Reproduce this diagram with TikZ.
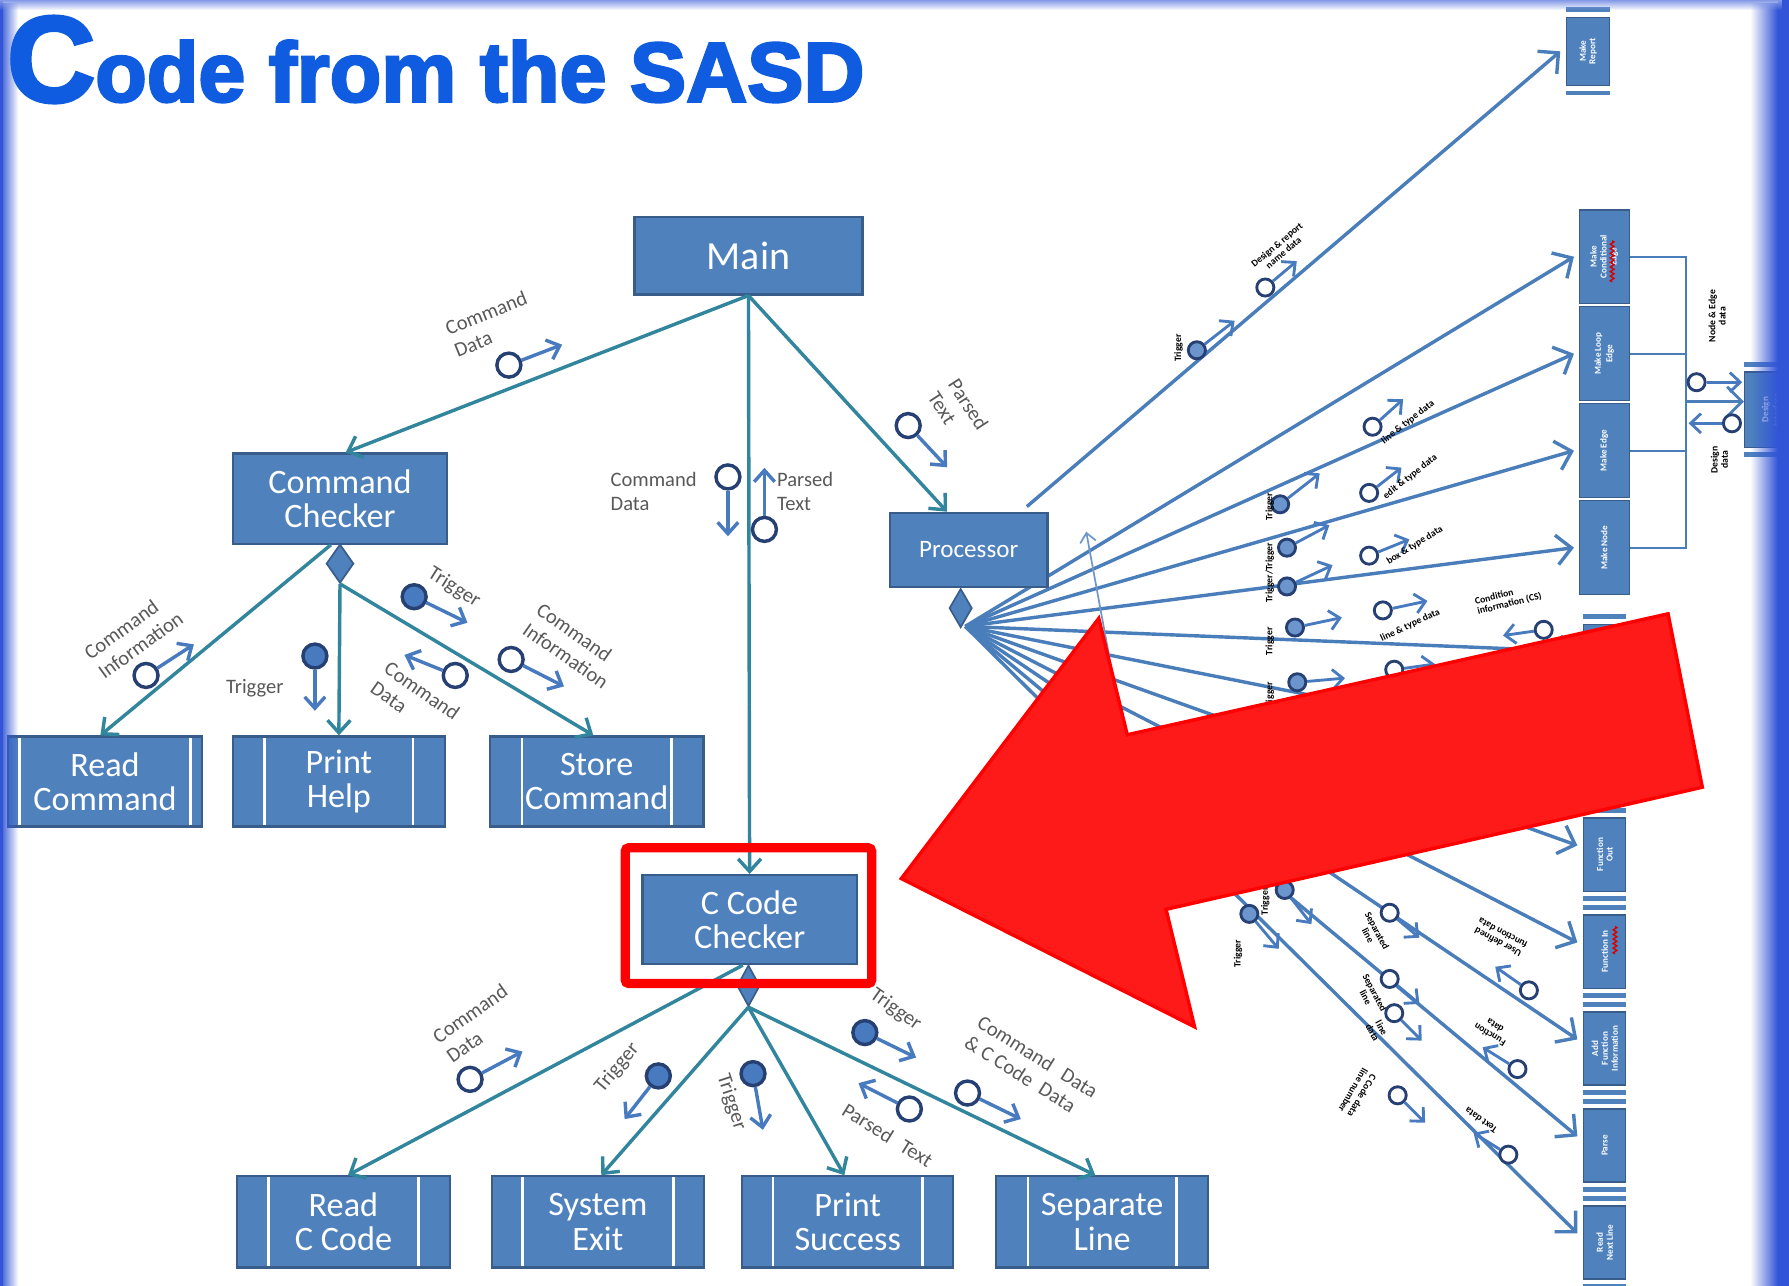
\documentclass[tikz,border=0pt]{standalone}
\usepackage{fontspec}
\usepackage{graphicx}
\setmainfont{Carlito}
\newfontfamily\titlefont{Liberation Sans}[BoldFeatures={FakeBold=3}]
\usetikzlibrary{arrows.meta,shapes.geometric,fadings,decorations.pathmorphing}

\definecolor{boxblue}{RGB}{79,129,189}
\definecolor{boxedge}{RGB}{56,93,138}
\definecolor{linkteal}{RGB}{49,133,156}
\definecolor{fanblue}{RGB}{74,126,187}
\definecolor{cplblue}{RGB}{72,122,192}
\definecolor{cpledge}{RGB}{38,64,115}
\definecolor{titleblue}{RGB}{16,92,224}
\definecolor{edgeblue}{RGB}{50,85,215}
\definecolor{alertfill}{RGB}{255,26,26}
\definecolor{alertline}{RGB}{255,0,0}

\tikzfading[name=fadeinright, left color=transparent!100, right color=transparent!0]
\tikzfading[name=fadeinleft, left color=transparent!0, right color=transparent!100]
\tikzfading[name=fadeindown, top color=transparent!0, bottom color=transparent!100]

% data couple: circle node, then a short arrow leaving it
\newcommand\dflow[6]{\node[#1] (#2) at (#3) {}; \draw[#4] (#2) -- ++(#5:#6);}
% separator bars above and below a stacked module box
\newcommand\colbars[1]{%
  \draw[colbar] ([yshift=6]#1.north west) -- ([yshift=6]#1.north east);
  \draw[colbar] ([yshift=-6]#1.south west) -- ([yshift=-6]#1.south east);}

\begin{document}
\begin{tikzpicture}[x=1pt,y=-1pt,
  box/.style={draw=boxedge, fill=boxblue, line width=2, text=white, align=center,
    inner sep=0, font=\fontsize{30}{30}\selectfont},
  sub/.style={box, path picture={
    \draw[white, line width=2.5] ([xshift=#1]path picture bounding box.north west) -- ([xshift=#1]path picture bounding box.south west);
    \draw[white, line width=2.5] ([xshift=-#1]path picture bounding box.north east) -- ([xshift=-#1]path picture bounding box.south east);}},
  gate/.style={diamond, draw=boxedge, fill=boxblue, line width=1.5, inner sep=0,
    minimum width=24, minimum height=34},
  link/.style={draw=linkteal, line width=3, -{Straight Barb[length=11pt,width=20pt]}},
  fan/.style={draw=fanblue, line width=3, -{Straight Barb[length=13pt,width=26pt]}},
  opc/.style={circle, draw=cpledge, line width=3, fill=white, minimum size=21, inner sep=0},
  flc/.style={opc, fill=cplblue},
  cpl/.style={draw=cplblue, line width=3, -{Straight Barb[length=10pt,width=18pt]}},
  sopc/.style={circle, draw=cpledge, line width=2.5, fill=white, minimum size=15, inner sep=0},
  sflc/.style={sopc, fill=cplblue!80},
  scpl/.style={draw=cplblue, line width=2.5, -{Straight Barb[length=9pt,width=17pt]}},
  lbl/.style={text=black!65, inner sep=0, align=left, font=\fontsize{18}{21}\selectfont},
  minilbl/.style={text=black, inner sep=0, align=center, font=\fontsize{8.5}{9}\selectfont\bfseries},
  cbox/.style={draw=boxedge, fill=boxblue, line width=1, text=white, inner sep=0,
    align=center, font=\fontsize{8}{8.5}\selectfont\bfseries},
  colbar/.style={draw=boxblue, line width=4},
  bracket/.style={draw=fanblue, line width=2},
  squiggle/.style={draw=red!85!black, line width=1.2, decorate,
    decoration={zigzag, amplitude=1.6, segment length=4}},
]
\useasboundingbox (0,0) rectangle (1568,1127);
\fill[white] (0,0) rectangle (1568,1127);

% ---------- right-hand modules ----------
\node[cbox, minimum width=38, minimum height=60] (mkreport) at (1392,45)
  {\rotatebox{90}{\shortstack{Make\\Report}}};
\colbars{mkreport}

\node[cbox, minimum width=44, minimum height=82] (mkcond) at (1406,225)
  {\rotatebox{90}{\shortstack{Make\\Conditional\\Edge}}};
\node[cbox, minimum width=44, minimum height=82] (mkloop) at (1406,310)
  {\rotatebox{90}{\shortstack{Make Loop\\Edge}}};
\node[cbox, minimum width=44, minimum height=82] (mkedge) at (1406,395)
  {\rotatebox{90}{Make Edge}};
\node[cbox, minimum width=44, minimum height=82] (mknode) at (1406,480)
  {\rotatebox{90}{Make Node}};

\node[cbox, minimum width=37, minimum height=64] (colA) at (1406.5,579) {};
\node[cbox, minimum width=37, minimum height=64] (colB) at (1406.5,664) {};
\node[cbox, minimum width=37, minimum height=64] (fnout) at (1406.5,749)
  {\rotatebox{90}{\shortstack{Function\\Out}}};
\node[cbox, minimum width=37, minimum height=64] (fnin) at (1406.5,834)
  {\rotatebox{90}{Function In}};
\node[cbox, minimum width=37, minimum height=64] (addfn) at (1406.5,919)
  {\rotatebox{90}{\shortstack{Add\\Function\\Information}}};
\node[cbox, minimum width=37, minimum height=64] (parse) at (1406.5,1004)
  {\rotatebox{90}{Parse}};
\node[cbox, minimum width=37, minimum height=64] (readnext) at (1406.5,1089)
  {\rotatebox{90}{\shortstack{Read\\Next Line}}};
\foreach \b in {colA,colB,fnout,fnin,addfn,parse,readnext} {\colbars{\b}}

% spell-check marks under two of the labels
\draw[squiggle] ([xshift=7,yshift=14]mkcond.center) -- ([xshift=7,yshift=-22]mkcond.center);
\draw[squiggle] ([xshift=9,yshift=22]fnin.center) -- ([xshift=9,yshift=-2]fnin.center);

\node[cbox, minimum width=46, minimum height=66] (design) at (1552,359)
  {\rotatebox{90}{\shortstack{Design\\Interface}}};
\colbars{design}

% bracket joining the edge/node builders to the design interface
\coordinate (bx) at (1478,0);
\draw[bracket] (mkcond.east) -- (mkcond.east -| bx) -- (mknode.east -| bx) -- (mknode.east);
\draw[bracket] (mkloop.east) -- (mkloop.east -| bx);
\draw[bracket] (mkedge.east) -- (mkedge.east -| bx);
\coordinate (bj) at (1478,352);
\draw[fan, line width=2.5] (bj) -- (bj -| design.west);
\dflow{sopc}{d1}{1487,335}{scpl}{0}{40}
\node[minilbl, rotate=90] (d1t) at (1505,277) {Node \& Edge\\data};
\dflow{sopc}{d2}{1518,371}{scpl}{180}{38}
\node[minilbl, rotate=90] (d2t) at (1507,403) {Design\\data};

% ---------- processor fan ----------
\coordinate (fo) at (846,549);
\coordinate (pcorner) at (900,444);
\draw[fan] (pcorner) -- ([xshift=-5]mkreport.west);
\foreach \t in {mkcond,mkloop,mkedge,mknode} {\draw[fan] (fo) -- ([xshift=-4]\t.west);}
\foreach \t in {colA,colB,fnout,fnin,addfn,parse,readnext} {\draw[fan] (fo) -- ([xshift=-5,yshift=8]\t.west);}

\node[box, minimum width=138, minimum height=65, font=\fontsize{22}{22}\selectfont] (proc) at (849,482) {Processor};
\node[gate, minimum width=20, minimum height=34] (pd) at (842,533) {};

\coordinate (thinlow) at (985,645);
\coordinate (thinhigh) at (952,466);
\draw[draw=fanblue!80, line width=1.5, -{Straight Barb[length=8pt,width=14pt]}] (thinlow) -- (thinhigh);

% couples on the fan
\dflow{sflc}{f1}{1049,307}{scpl}{-38}{42}
\node[minilbl, rotate=90] (f1t) at (1033,305) {Trigger};
\dflow{sopc}{f2}{1109,252}{scpl}{-40}{36}
\node[minilbl, rotate=40] (f2t) at (1122,218) {Design \& report\\name data};
\dflow{sflc}{f3}{1122,442}{scpl}{-38}{44}
\dflow{sopc}{f4}{1203,374}{scpl}{-42}{36}
\node[minilbl, rotate=38] (f4t) at (1234,370) {line \& type data};
\dflow{sflc}{f5}{1128,480}{scpl}{-28}{42}
\dflow{sopc}{f6}{1200,432}{scpl}{-38}{36}
\node[minilbl, rotate=38] (f6t) at (1236,418) {edit \& type data};
\dflow{sflc}{f7}{1128,514}{scpl}{-25}{44}
\dflow{sopc}{f8}{1200,487}{scpl}{-22}{38}
\node[minilbl, rotate=32] (f8t) at (1240,478) {box \& type data};
\dflow{sflc}{f9}{1135,550}{scpl}{-12}{42}
\dflow{sopc}{f10}{1212,535}{scpl}{-12}{40}
\node[minilbl, rotate=25] (f10t) at (1236,548) {line \& type data};
\node[minilbl, rotate=14, align=left] (f11t) at (1322,525) {Condition\\information (CS)};
\dflow{sopc}{f11}{1353,552}{scpl}{172}{36}
\dflow{sflc}{f12}{1137,598}{scpl}{-5}{42}
\dflow{sopc}{f13}{1222,587}{scpl}{-8}{36}
\node[minilbl, rotate=90] (tg1) at (1113,444) {Trigger};
\node[minilbl, rotate=90] (tg2) at (1113,502) {Trigger/Trigger};
\node[minilbl, rotate=90] (tg3) at (1113,562) {Trigger};
\node[minilbl, rotate=90] (tg4) at (1113,610) {Trigger};

\dflow{sflc}{g1}{1095,801}{scpl}{50}{40}
\node[minilbl, rotate=90] (g1t) at (1085,836) {Trigger};
\dflow{sflc}{g2}{1126,780}{scpl}{52}{38}
\node[minilbl, rotate=90] (g2t) at (1109,790) {Trigger};
\dflow{sopc}{g3}{1218,800}{scpl}{40}{34}
\node[minilbl, rotate=-62] (g3t) at (1203,818) {Separated\\line};
\dflow{sopc}{g4}{1218,858}{scpl}{40}{34}
\node[minilbl, rotate=-62] (g4t) at (1201,872) {Separated\\line};
\dflow{sopc}{g5}{1222,888}{scpl}{45}{34}
\node[minilbl, rotate=-62] (g5t) at (1207,903) {line\\data};
\dflow{sopc}{g6}{1225,960}{scpl}{45}{34}
\node[minilbl, rotate=-120] (g6t) at (1190,958) {C Code data\\line number};
\dflow{sopc}{g7}{1340,868}{scpl}{215}{36}
\node[minilbl, rotate=152] (g7t) at (1315,822) {User defined\\function data};
\dflow{sopc}{g8}{1330,937}{scpl}{212}{36}
\node[minilbl, rotate=148] (g8t) at (1308,903) {Function\\data};
\dflow{sopc}{g9}{1322,1012}{scpl}{212}{36}
\node[minilbl, rotate=145] (g9t) at (1298,982) {Text data};

% ---------- main structure ----------
\node[box, minimum width=200, minimum height=68, font=\fontsize{35}{35}\selectfont] (main) at (656,224) {Main};
\node[box, minimum width=188, minimum height=79] (cmdchk) at (298,437) {Command\\Checker};
\node[gate] (cmdd) at (298,494) {};
\node[box, minimum width=188, minimum height=78] (cchk) at (657,806) {C Code\\Checker};
\node[gate, minimum width=20, minimum height=36] (ccd) at (656,864) {};

\node[sub=10, minimum width=170, minimum height=79] (readcmd) at (92,685) {Read\\Command};
\node[sub=28, minimum width=186, minimum height=79] (printhelp) at (297,685) {Print\\Help};
\node[sub=28, minimum width=187, minimum height=79] (storecmd) at (523,685) {Store\\Command};
\node[sub=28, minimum width=187, minimum height=80] (readc) at (301,1071) {Read\\C Code};
\node[sub=27, minimum width=186, minimum height=80] (sysexit) at (524,1071) {System\\Exit};
\node[sub=27, minimum width=185, minimum height=80] (printsucc) at (743,1071) {Print\\Success};
\node[sub=28, minimum width=186, minimum height=80] (sepline) at (966,1071) {Separate\\Line};

\draw[link] (main.south) -- ([xshift=5]cmdchk.north);
\draw[link] (main.south) -- (cchk.north);
\draw[link] (main.south) -- ([xshift=-19]proc.north);
\draw[link] ([xshift=-8]cmdchk.south) -- ([xshift=-4]readcmd.north);
\draw[link] (cmdd.south) -- (printhelp.north);
\draw[link] (cmdd.south) -- ([xshift=-3]storecmd.north);
\draw[link] ([xshift=-6]cchk.south) -- ([xshift=4]readc.north);
\draw[link] (ccd.south) -- ([xshift=3]sysexit.north);
\draw[link] (ccd.south) -- ([xshift=-3]printsucc.north);
\draw[link] (ccd.south) -- ([xshift=-6]sepline.north);

% couples and labels of the main structure
\dflow{opc}{c1}{446,320}{cpl}{-21}{50}
\node[lbl, rotate=22] (l1) at (430,284) {Command\\Data};
\dflow{opc}{c2}{638,418}{cpl}{90}{52}
\node[lbl, anchor=west] (l2) at (535,431) {Command\\Data};
\dflow{opc}{c3}{670,464}{cpl}{-90}{54}
\node[lbl, anchor=west] (l3) at (681,431) {Parsed\\Text};
\dflow{opc}{c4}{796,373}{cpl}{47}{50}
\node[lbl, rotate=-57] (l4) at (840,360) {Parsed\\Text};

\dflow{opc}{c5}{128,592}{cpl}{-33}{50}
\node[lbl, rotate=36] (l5) at (117,557) {Command\\Information};
\dflow{flc}{c6}{276,575}{cpl}{90}{48}
\node[lbl, anchor=west] (l6) at (198,603) {Trigger};
\dflow{flc}{c7}{363,523}{cpl}{26}{52}
\node[lbl, rotate=-32] (l7) at (398,515) {Trigger};
\dflow{opc}{c8}{399,592}{cpl}{202}{48}
\node[lbl, rotate=-35] (l8) at (364,614) {Command\\Data};
\dflow{opc}{c9}{448,578}{cpl}{27}{52}
\node[lbl, rotate=-35] (l9) at (502,566) {Command\\Information};

\dflow{opc}{c10}{412,946}{cpl}{-28}{52}
\node[lbl, rotate=35] (l10) at (418,897) {Command\\Data};
\dflow{flc}{c11}{577,943}{cpl}{128}{48}
\node[lbl, rotate=50] (l11) at (541,936) {Trigger};
\dflow{flc}{c12}{660,941}{cpl}{80}{50}
\node[lbl, rotate=-72] (l12) at (641,966) {Trigger};
\dflow{flc}{c13}{758,905}{cpl}{26}{50}
\node[lbl, rotate=-35] (l13) at (785,885) {Trigger};
\dflow{opc}{c14}{797,972}{cpl}{207}{50}
\node[lbl, rotate=-32] (l14) at (778,995) {Parsed\hspace{0.6em}Text};
\dflow{opc}{c15}{848,958}{cpl}{26}{52}
\node[lbl, rotate=-32] (l15) at (904,935) {Command\hspace{0.6em}Data\\\& C Code\hspace{0.5em}Data};

% ---------- highlight ----------
\node[draw=alertline, line width=8, rounded corners=3, minimum width=216, minimum height=119, inner sep=0] (focus) at (656,802.5) {};
\filldraw[fill=alertfill, draw=alertline, line width=3, line join=miter]
  (790,770) -- (963,542) -- (988,644) -- (1462,538) -- (1492,690) -- (1022,797) -- (1047,900) -- cycle;

% ---------- page edges ----------
\fill[edgeblue, path fading=fadeinleft] (0,0) rectangle (16,1127);
\fill[edgeblue] (0,0) rectangle (3,1127);
\fill[edgeblue, path fading=fadeinright] (1534,0) rectangle (1558,1127);
\fill[edgeblue] (1558,0) rectangle (1568,1127);
\fill[edgeblue!60, path fading=fadeindown] (0,0) rectangle (1568,9);

% ---------- title ----------
\node[anchor=base west, inner sep=0, text=titleblue] (title) at (6,89)
  {\titlefont\bfseries\fontsize{107}{107}\selectfont C\fontsize{74}{74}\selectfont ode from the SASD};
\end{tikzpicture}
\end{document}
